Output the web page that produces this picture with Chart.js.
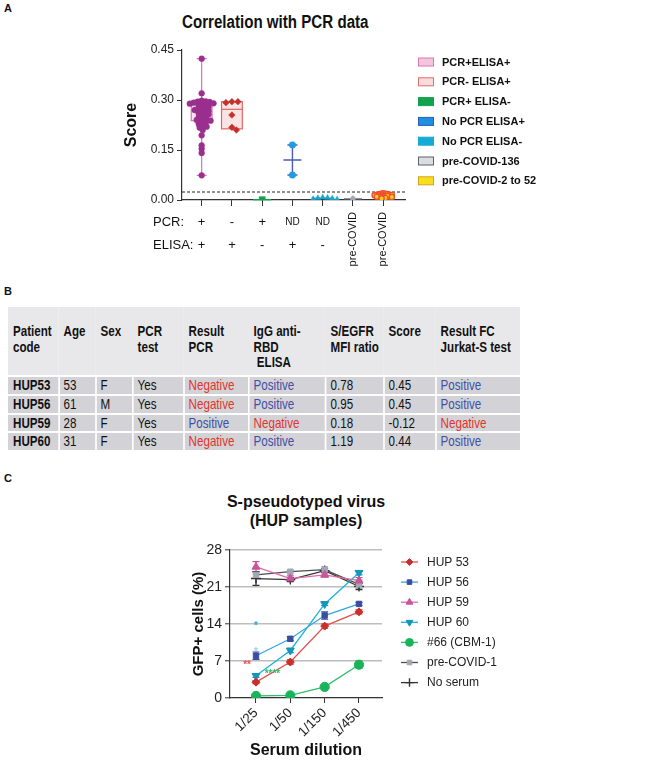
<!DOCTYPE html>
<html>
<head>
<meta charset="utf-8">
<title>Correlation with PCR data</title>
<script src="https://cdn.jsdelivr.net/npm/chart.js@4.4.1/dist/chart.umd.min.js"></script>
<style>
  body { margin: 0; background: #fff; font-family: "Liberation Sans", Arial, sans-serif; color: #111; }
  #page { position: relative; width: 648px; height: 765px; overflow: hidden; }
  .abs { position: absolute; }
  .tag { font-weight: bold; font-size: 11px; line-height: 11px; }
  #titleA { left: 182px; top: 13px; font-size: 18px; line-height: 18px; font-weight: bold; white-space: nowrap; transform: scaleX(0.84); transform-origin: 0 0; }
  #titleC { left: 156px; top: 492px; width: 300px; text-align: center; font-size: 16px; line-height: 19px; font-weight: bold; }
  #tableB { left: 8px; top: 307px; width: 640px; transform: scaleX(0.8); transform-origin: 0 0; background: #fff;
            display: grid; grid-template-columns: 62.5px 46.25px 46.25px 63.75px 81.25px 96.25px 72.5px 65px 106.25px;
            grid-template-rows: 68px repeat(4, 16.75px); row-gap: 2px; font-size: 14.5px; }
  #tableB .h { background: #e8e8ea; font-weight: bold; padding: 17px 0 0 7px; line-height: 15.5px; white-space: nowrap; }
  #tableB .h:first-child { padding-left: 6.25px; }
  #tableB .c { background: #d3d3d7; border-left: 2.5px solid #fff; padding: 1px 0 0 5px; line-height: 15.75px; white-space: nowrap; box-sizing: border-box; }
  #tableB .c.first { border-left: none; padding-left: 6.25px; font-weight: bold; }
  .neg { color: #e2332f; }
  .pos { color: #3e4fa6; }
  canvas { position: absolute; left: 0; }
</style>
</head>
<body>
<div id="page">
  <div class="abs tag" style="left:4px;top:3px">A</div>
  <div class="abs" id="titleA">Correlation with PCR data</div>
  <canvas id="chartA" width="648" height="280" style="top:0"></canvas>

  <div class="abs tag" style="left:4px;top:286px">B</div>
  <div class="abs" id="tableB"></div>

  <div class="abs tag" style="left:4px;top:473px">C</div>
  <div class="abs" id="titleC">S-pseudotyped virus<br>(HUP samples)</div>
  <canvas id="chartC" width="648" height="285" style="top:480px"></canvas>
</div>

<script>
// ---------- panel A data ----------
const groupsA = ['PCR+ELISA+', 'PCR- ELISA+', 'PCR+ ELISA-', 'No PCR ELISA+', 'No PCR ELISA-', 'pre-COVID-136', 'pre-COVID-2 to 52'];
const pcrRow = ['+', '-', '+', 'ND', 'ND', '', ''];
const elisaRow = ['+', '+', '-', '+', '-', '', ''];
const rotatedLabels = ['', '', '', '', '', 'pre-COVID', 'pre-COVID'];

const scoresPcrPosElisaPos = [0.424, 0.320, 0.298, 0.296, 0.295, 0.294, 0.292, 0.290, 0.289, 0.287, 0.285,
  0.282, 0.280, 0.277, 0.274, 0.272, 0.270, 0.268, 0.265, 0.262, 0.260, 0.257, 0.255, 0.252, 0.248,
  0.245, 0.242, 0.240, 0.238, 0.235, 0.232, 0.228, 0.224, 0.220, 0.217, 0.210, 0.194, 0.164, 0.154,
  0.141, 0.074];
const scoresPcrNegElisaPos = [0.295, 0.292, 0.295, 0.255, 0.218, 0.210];
const scoresPcrPosElisaNeg = [0.001];
const scoresNoPcrElisaPos = [0.165, 0.075];
const scoresNoPcrElisaNeg = [0.008, 0.006, 0.007, 0.003, 0.005, 0.002];
const scoresPreCovid136 = [0.004];
const scoresPreCovid2to52 = [0.019, 0.020, 0.018, 0.019, 0.016, 0.017, 0.015, 0.014, 0.016, 0.013,
  0.012, 0.014, 0.011, 0.010, 0.012, 0.009, 0.008, 0.010, 0.006, 0.005];

// box plots (groups 1 and 2)
const boxGroups = [1, 2];
const boxMin = [0.074, 0.2135];
const boxQ1 = [0.238, 0.2135];
const boxMedian = [0.265, 0.272];
const boxQ3 = [0.292, 0.295];
const boxMax = [0.424, 0.295];

const cutoffA = 0.024;

// ---------- panel B data ----------
const tableHeader = ['Patient<br>code', 'Age', 'Sex', 'PCR<br>test', 'Result<br>PCR', 'IgG anti-<br>RBD<br>&nbsp;ELISA',
  'S/EGFR<br>MFI ratio', 'Score', 'Result FC<br>Jurkat-S test'];
const patientCodes = ['HUP53', 'HUP56', 'HUP59', 'HUP60'];
const ages = [53, 61, 28, 31];
const sexes = ['F', 'M', 'F', 'F'];
const pcrTest = ['Yes', 'Yes', 'Yes', 'Yes'];
const resultPcr = ['Negative', 'Negative', 'Positive', 'Negative'];
const iggElisa = ['Positive', 'Positive', 'Negative', 'Positive'];
const mfiRatio = ['0.78', '0.95', '0.18', '1.19'];
const scoreB = ['0.45', '0.45', '-0.12', '0.44'];
const resultFc = ['Positive', 'Positive', 'Negative', 'Positive'];

// ---------- panel C data ----------
const dilutions = ['1/25', '1/50', '1/150', '1/450'];
const hup53 = [3.0, 6.8, 13.6, 16.3];
const hup56 = [8.0, 11.2, 15.6, 17.8];
const hup59 = [24.8, 22.6, 23.3, 22.2];
const hup60 = [4.2, 9.0, 17.8, 23.7];
const cbm1 = [0.4, 0.5, 2.1, 6.3];
const preCovid1 = [23.3, 23.9, 24.3, 21.5];
const noSerum = [22.6, 22.4, 24.1, 21.1];
const hup53Err = [0.3, 0.4, 0.4, 0.4];
const hup56Err = [0.7, 0.4, 0.7, 0.3];
const hup59Err = [1.0, 0.5, 0.4, 0.6];
const hup60Err = [0.3, 0.4, 0.3, 0.4];
const cbm1Err = [0.2, 0.2, 0.2, 0.7];
const preCovid1Err = [0.6, 0.3, 0.5, 0.8];
const noSerumErr = [1.3, 0.4, 0.4, 0.6];
const starLabels = ['**', '****', '*', '*'];
const starX = [-0.26, 0.48, 0, 0];
const starY = [6.6, 4.8, 14.0, 9.1];
const starColors = ['#e8515a', '#2dbf6a', '#2ea6df', '#8fd3ec'];

// ---------- table B ----------
function buildTable() {
  const wrap = document.getElementById('tableB');
  let html = tableHeader.map(h => '<div class="h">' + h + '</div>').join('');
  const cls = v => v === 'Negative' ? 'neg' : (v === 'Positive' ? 'pos' : '');
  patientCodes.forEach((code, i) => {
    const row = [code, ages[i], sexes[i], pcrTest[i], resultPcr[i], iggElisa[i], mfiRatio[i], scoreB[i], resultFc[i]];
    row.forEach((v, j) => {
      html += '<div class="c ' + (j === 0 ? 'first ' : '') + cls(v) + '">' + v + '</div>';
    });
  });
  wrap.innerHTML = html;
}
buildTable();

// ---------- panel A chart ----------
const PX_PER_X = 30.27;   // approx pixel size of one category step
const PX_PER_Y = 333.3;   // approx pixels per score unit

// simple beeswarm layout, dots may overlap a little like in the original
function swarm(values, center, diam) {
  const placed = [];
  const order = values.map((v, i) => i).sort((a, b) => values[b] - values[a]);
  const pts = new Array(values.length);
  for (const i of order) {
    const py = values[i] * PX_PER_Y;
    let off = 0;
    for (let k = 0; k < 80; k++) {
      const o = (k % 2 ? 1 : -1) * Math.ceil(k / 2) * diam * 0.3;
      if (placed.every(p => Math.hypot(p.x - o, p.y - py) >= diam)) { off = o; break; }
    }
    placed.push({ x: off, y: py });
    pts[i] = { x: center + off / PX_PER_X, y: values[i] };
  }
  return pts;
}

const legendFillA = ['#f4c6de', '#fadcdc', '#12a24e', '#1e8fe1', '#16abd6', '#dcdde3', '#f4e01f'];
const legendStrokeA = ['#d878b1', '#e06e6e', '#12a24e', '#2a5fb8', '#16abd6', '#5f6068', '#d9a21c'];
const meanColorsA = [null, null, '#12a24e', '#4a5bb5', '#1aa6cc', '#8d909c', '#ef5a2c'];
const allGroupsA = [scoresPcrPosElisaPos, scoresPcrNegElisaPos, scoresPcrPosElisaNeg, scoresNoPcrElisaPos,
  scoresNoPcrElisaNeg, scoresPreCovid136, scoresPreCovid2to52];

const decorA = {
  id: 'decorA',
  beforeDatasetsDraw(chart) {
    const { ctx, scales: { x, y }, chartArea } = chart;
    ctx.save();
    // boxes with whiskers
    const boxFill = ['rgba(238,168,208,0.35)', 'rgba(245,188,188,0.4)'];
    const boxStroke = ['#d877b0', '#e46565'];
    boxGroups.forEach((g, i) => {
      const cx = x.getPixelForValue(g);
      const hw = 10.4;
      const top = y.getPixelForValue(boxQ3[i]);
      const bot = y.getPixelForValue(boxQ1[i]);
      ctx.fillStyle = boxFill[i];
      ctx.strokeStyle = boxStroke[i];
      ctx.lineWidth = 1.2;
      ctx.fillRect(cx - hw, top, hw * 2, bot - top);
      ctx.strokeRect(cx - hw, top, hw * 2, bot - top);
      ctx.beginPath();
      const med = y.getPixelForValue(boxMedian[i]);
      ctx.moveTo(cx - hw, med); ctx.lineTo(cx + hw, med);
      const ymax = y.getPixelForValue(boxMax[i]);
      const ymin = y.getPixelForValue(boxMin[i]);
      if (ymax < top - 1) {
        ctx.moveTo(cx, top); ctx.lineTo(cx, ymax);
        ctx.moveTo(cx - 5, ymax); ctx.lineTo(cx + 5, ymax);
      }
      if (ymin > bot + 1) {
        ctx.moveTo(cx, bot); ctx.lineTo(cx, ymin);
        ctx.moveTo(cx - 5, ymin); ctx.lineTo(cx + 5, ymin);
      }
      ctx.stroke();
    });
    // mean lines for the other groups
    allGroupsA.forEach((vals, i) => {
      if (!meanColorsA[i]) return;
      const cx = x.getPixelForValue(i + 1);
      const mean = vals.reduce((a, b) => a + b, 0) / vals.length;
      const my = y.getPixelForValue(mean);
      ctx.strokeStyle = meanColorsA[i];
      ctx.lineWidth = 1.4;
      ctx.beginPath();
      ctx.moveTo(cx - 9, my); ctx.lineTo(cx + 9, my);
      if (vals.length === 2) {
        const a = y.getPixelForValue(Math.max(...vals));
        const b = y.getPixelForValue(Math.min(...vals));
        ctx.moveTo(cx, a); ctx.lineTo(cx, b);
        ctx.moveTo(cx - 5, a); ctx.lineTo(cx + 5, a);
        ctx.moveTo(cx - 5, b); ctx.lineTo(cx + 5, b);
      }
      ctx.stroke();
    });
    // dashed cut-off line
    const cy = y.getPixelForValue(cutoffA);
    ctx.strokeStyle = '#222';
    ctx.lineWidth = 1;
    ctx.setLineDash([3, 2]);
    ctx.beginPath();
    ctx.moveTo(chartArea.left, cy); ctx.lineTo(chartArea.right, cy);
    ctx.stroke();
    ctx.restore();
  },
  afterDraw(chart) {
    const { ctx, scales: { x } } = chart;
    ctx.save();
    ctx.fillStyle = '#111';
    ctx.textBaseline = 'middle';
    ctx.font = '13px "Liberation Sans", Arial, sans-serif';
    ctx.textAlign = 'left';
    ctx.fillText('PCR:', 153, 222);
    ctx.fillText('ELISA:', 153, 245);
    ctx.textAlign = 'center';
    groupsA.forEach((g, i) => {
      const cx = x.getPixelForValue(i + 1);
      [[pcrRow[i], 222], [elisaRow[i], 245]].forEach(([t, ty]) => {
        if (!t) return;
        ctx.font = (t === 'ND' ? '10px' : '13px') + ' "Liberation Sans", Arial, sans-serif';
        ctx.fillText(t, cx, ty);
      });
      if (rotatedLabels[i]) {
        ctx.save();
        ctx.translate(cx, 212);
        ctx.rotate(-Math.PI / 2);
        ctx.textAlign = 'right';
        ctx.font = '11px "Liberation Sans", Arial, sans-serif';
        ctx.fillText(rotatedLabels[i], 0, 0);
        ctx.restore();
      }
    });
    // legend
    ctx.textAlign = 'left';
    ctx.font = 'bold 11px "Liberation Sans", Arial, sans-serif';
    groupsA.forEach((g, i) => {
      const ly = 62 + i * 19.8;
      ctx.fillStyle = legendFillA[i];
      ctx.strokeStyle = legendStrokeA[i];
      ctx.lineWidth = 1;
      ctx.fillRect(418.5, ly - 4, 15, 8);
      ctx.strokeRect(418.5, ly - 4, 15, 8);
      ctx.fillStyle = '#111';
      ctx.fillText(g, 442, ly + 0.5);
    });
    ctx.restore();
  }
};

const pointSpecA = [
  { data: swarm(scoresPcrPosElisaPos, 1, 3.3), color: '#9a2f8e', border: '#9a2f8e', style: 'circle', r: 2.9 },
  { data: swarm(scoresPcrNegElisaPos, 2, 5), color: '#c4302b', border: '#c4302b', style: 'rectRot', r: 3.3 },
  { data: swarm(scoresPcrPosElisaNeg, 3, 8), color: '#12a24e', border: '#12a24e', style: 'rect', r: 4.3 },
  { data: swarm(scoresNoPcrElisaPos, 4, 7), color: '#1e9ce4', border: '#1e9ce4', style: 'circle', r: 3.3 },
  { data: swarm(scoresNoPcrElisaNeg, 5, 4), color: '#1aa6cc', border: '#1aa6cc', style: 'triangle', r: 3.2 },
  { data: swarm(scoresPreCovid136, 6, 6), color: '#a4a7b5', border: '#8d909c', style: 'rectRot', r: 3.2 },
  { data: swarm(scoresPreCovid2to52, 7, 1.8), color: '#f7cf22', border: '#ef4f2b', style: 'circle', r: 2.6 }
];

new Chart(document.getElementById('chartA').getContext('2d'), {
  type: 'scatter',
  data: {
    datasets: pointSpecA.map((s, i) => ({
      label: groupsA[i],
      data: s.data,
      pointStyle: s.style,
      pointRadius: s.r,
      backgroundColor: s.color,
      borderColor: s.border,
      borderWidth: i === 6 ? 1.3 : 0.5
    }))
  },
  options: {
    responsive: false,
    animation: false,
    layout: { padding: { left: 118, right: 243, top: 50, bottom: 74 } },
    plugins: { legend: { display: false }, tooltip: { enabled: false } },
    scales: {
      x: {
        type: 'linear', min: 0.35, max: 7.72,
        afterBuildTicks: s => { s.ticks = groupsA.map((g, i) => ({ value: i + 1 })); },
        ticks: { display: false },
        grid: { drawOnChartArea: false, color: '#333', tickLength: 6 },
        border: { color: '#333', width: 1.2 },
        afterFit: s => { s.height = 6; }
      },
      y: {
        min: 0, max: 0.45,
        ticks: { stepSize: 0.15, callback: v => v.toFixed(2), font: { size: 12, family: '"Liberation Sans", Arial, sans-serif' }, color: '#222', padding: 3 },
        grid: { drawOnChartArea: false, color: '#333', tickLength: 5 },
        border: { color: '#333', width: 1.2 },
        title: { display: true, text: 'Score', font: { size: 16, weight: 'bold', family: '"Liberation Sans", Arial, sans-serif' }, color: '#111', padding: { top: 4, bottom: 0 } },
        afterFit: s => { s.width = 64; }
      }
    }
  },
  plugins: [decorA]
});

// ---------- panel C chart ----------
const seriesC = [
  { label: 'HUP 53', values: hup53, err: hup53Err, line: '#e3514c', mark: '#c8302c', style: 'rectRot', r: 4, rot: 0 },
  { label: 'HUP 56', values: hup56, err: hup56Err, line: '#33a8e0', mark: '#3a4ea0', style: 'rect', r: 3.8, rot: 0 },
  { label: 'HUP 59', values: hup59, err: hup59Err, line: '#df6aaa', mark: '#c9559a', style: 'triangle', r: 4.6, rot: 0 },
  { label: 'HUP 60', values: hup60, err: hup60Err, line: '#1cb2d8', mark: '#1596b9', style: 'triangle', r: 4.6, rot: 180 },
  { label: '#66 (CBM-1)', values: cbm1, err: cbm1Err, line: '#2cc06b', mark: '#19b359', style: 'circle', r: 4.6, rot: 0 },
  { label: 'pre-COVID-1', values: preCovid1, err: preCovid1Err, line: '#4d4d4d', mark: '#a3a7b4', style: 'rect', r: 3.8, rot: 0 },
  { label: 'No serum', values: noSerum, err: noSerumErr, line: '#333333', mark: '#333333', style: 'cross', r: 5, rot: 0 }
];

function drawMarker(ctx, s, px, py) {
  ctx.fillStyle = s.mark;
  ctx.strokeStyle = s.mark;
  ctx.lineWidth = s.style === 'cross' ? 1.4 : 1;
  if (Chart.helpers && Chart.helpers.drawPoint) {
    Chart.helpers.drawPoint(ctx, { pointStyle: s.style, radius: s.r, rotation: s.rot, borderWidth: ctx.lineWidth }, px, py);
  } else {
    ctx.beginPath(); ctx.arc(px, py, s.r, 0, Math.PI * 2); ctx.fill();
  }
}

const decorC = {
  id: 'decorC',
  beforeDatasetsDraw(chart) {
    const { ctx, scales: { x, y } } = chart;
    ctx.save();
    ctx.lineWidth = 1.2;
    seriesC.forEach(s => {
      ctx.strokeStyle = s.mark;
      s.values.forEach((v, i) => {
        const px = x.getPixelForValue(i);
        const a = y.getPixelForValue(v + s.err[i]);
        const b = y.getPixelForValue(v - s.err[i]);
        ctx.beginPath();
        ctx.moveTo(px, a); ctx.lineTo(px, b);
        ctx.moveTo(px - 3.5, a); ctx.lineTo(px + 3.5, a);
        ctx.moveTo(px - 3.5, b); ctx.lineTo(px + 3.5, b);
        ctx.stroke();
      });
    });
    ctx.restore();
  },
  afterDraw(chart) {
    const { ctx, scales: { x, y } } = chart;
    ctx.save();
    // significance stars
    ctx.font = 'bold 10px "Liberation Sans", Arial, sans-serif';
    ctx.textAlign = 'center';
    ctx.textBaseline = 'middle';
    starLabels.forEach((t, i) => {
      ctx.fillStyle = starColors[i];
      ctx.fillText(t, x.getPixelForValue(starX[i]), y.getPixelForValue(starY[i]) + 2);
    });
    // legend
    ctx.textAlign = 'left';
    ctx.font = '12px "Liberation Sans", Arial, sans-serif';
    seriesC.forEach((s, i) => {
      const ly = 82 + i * 20.1;
      ctx.strokeStyle = s.line;
      ctx.lineWidth = 1.3;
      ctx.beginPath(); ctx.moveTo(401, ly); ctx.lineTo(418, ly); ctx.stroke();
      drawMarker(ctx, Object.assign({}, s, { r: s.r * 0.85 }), 409.5, ly);
      ctx.fillStyle = '#222';
      ctx.fillText(s.label, 427, ly + 0.5);
    });
    ctx.restore();
  }
};

new Chart(document.getElementById('chartC').getContext('2d'), {
  type: 'line',
  data: {
    datasets: seriesC.map(s => ({
      label: s.label,
      data: s.values.map((v, i) => ({ x: i, y: v })),
      borderColor: s.line,
      borderWidth: 1.3,
      backgroundColor: s.mark,
      pointBorderColor: s.mark,
      pointBackgroundColor: s.mark,
      pointStyle: s.style,
      pointRadius: s.r,
      pointRotation: s.rot,
      pointBorderWidth: s.style === 'cross' ? 1.4 : 1,
      tension: 0,
      fill: false
    }))
  },
  options: {
    responsive: false,
    animation: false,
    layout: { padding: { left: 188, right: 266, top: 70, bottom: 0 } },
    plugins: { legend: { display: false }, tooltip: { enabled: false } },
    scales: {
      x: {
        type: 'linear', min: -0.757, max: 3.67,
        afterBuildTicks: s => { s.ticks = dilutions.map((d, i) => ({ value: i })); },
        ticks: { callback: v => dilutions[v], minRotation: 45, maxRotation: 45, autoSkip: false,
                 font: { size: 13.5, family: '"Liberation Sans", Arial, sans-serif' }, color: '#222', padding: 2 },
        grid: { drawOnChartArea: false, color: '#333', tickLength: 5 },
        border: { color: '#333', width: 1.2 },
        title: { display: true, text: 'Serum dilution', font: { size: 16, weight: 'bold', family: '"Liberation Sans", Arial, sans-serif' }, color: '#111', padding: { top: 0, bottom: 5 } },
        afterFit: s => { s.height = 67; }
      },
      y: {
        min: 0, max: 28,
        ticks: { stepSize: 7, font: { size: 14, family: '"Liberation Sans", Arial, sans-serif' }, color: '#222', padding: 3 },
        grid: { color: c => (c.tick && c.tick.value === 0) ? 'rgba(0,0,0,0)' : '#bdbdbd', lineWidth: 1.6,
                tickColor: '#333', tickWidth: 1, tickLength: 5 },
        border: { color: '#333', width: 1.2 },
        title: { display: true, text: 'GFP+ cells (%)', font: { size: 15, weight: 'bold', family: '"Liberation Sans", Arial, sans-serif' }, color: '#111', padding: { top: 2, bottom: 0 } },
        afterFit: s => { s.width = 42; }
      }
    }
  },
  plugins: [decorC]
});
</script>
</body>
</html>
